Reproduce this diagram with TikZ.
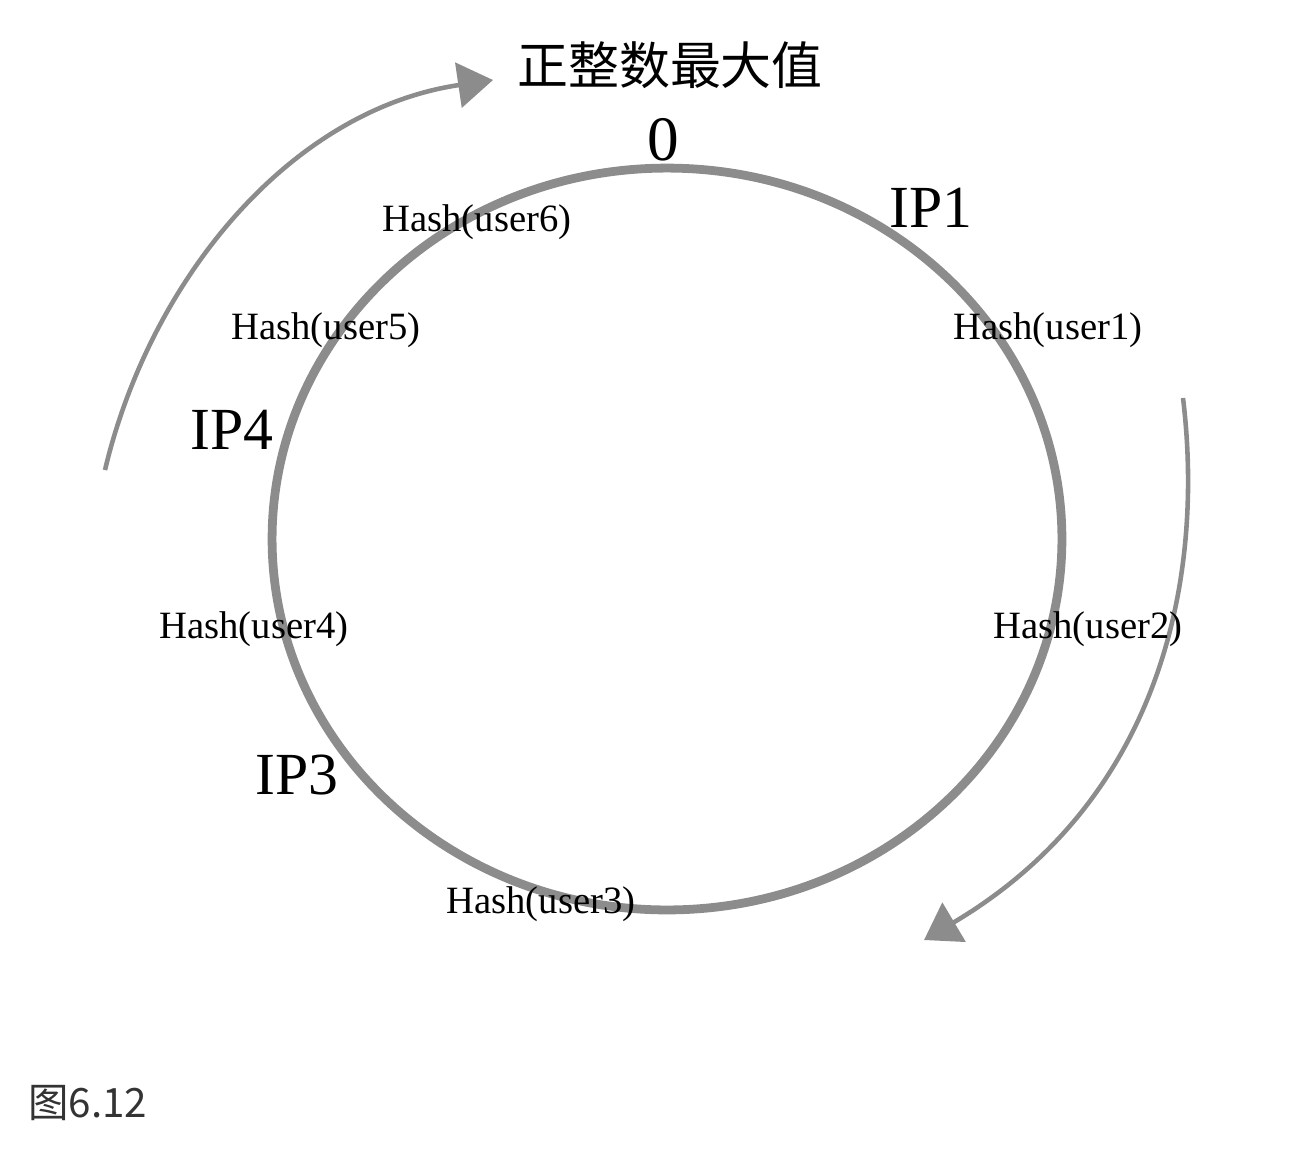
\documentclass[tikz,border=0pt]{standalone}
\usepackage{fontspec}
\setmainfont{Liberation Serif}
\newfontfamily\cjk{Noto Sans CJK SC}
\usetikzlibrary{arrows.meta}
\definecolor{ringgray}{HTML}{8C8C8C}
\definecolor{capgray}{HTML}{333333}

\begin{document}
\begin{tikzpicture}[x=0.02cm,y=-0.02cm,
  ring/.style={draw=ringgray,line width=5pt},
  flow/.style={draw=ringgray,line width=2.6pt,-{Triangle[length=0.7cm,width=0.9cm]}},
  hashlbl/.style={inner sep=0pt,font=\fontsize{22}{22}\selectfont},
  iplbl/.style={inner sep=0pt,font=\fontsize{34}{34}\selectfont}
]
  \useasboundingbox (0,0) rectangle (1310,1154);
  \coordinate (c) at (667,539);
  \draw[ring] (c) ellipse [x radius=7.9cm,y radius=7.42cm];
  % arrows round the ring
  \coordinate (upS) at (105,470);
  \coordinate (upE) at (493,80);
  \draw[flow] (upS) .. controls (150,280) and (290,110) .. (upE);
  \coordinate (dnS) at (1183,398);
  \coordinate (dnE) at (924,940);
  \draw[flow] (dnS) .. controls (1205,580) and (1160,800) .. (dnE);
  % labels
  \node[inner sep=0pt,font=\cjk\fontsize{29}{29}\selectfont] (max) at (670,65) {正整数最大值};
  \node[iplbl,font=\fontsize{36}{36}\selectfont] (zero) at (663,140) {0};
  \node[iplbl] (ip1) at (931,208) {IP1};
  \node[iplbl] (ip4) at (232,430) {IP4};
  \node[iplbl] (ip3) at (297,775) {IP3};
  \node[hashlbl] (h6) at (477,222) {Hash(user6)};
  \node[hashlbl] (h5) at (326,330) {Hash(user5)};
  \node[hashlbl] (h1) at (1048,330) {Hash(user1)};
  \node[hashlbl] (h4) at (254,629) {Hash(user4)};
  \node[hashlbl] (h2) at (1088,629) {Hash(user2)};
  \node[hashlbl] (h3) at (541,904) {Hash(user3)};
  \node[anchor=west,inner sep=0pt,text=capgray,font=\cjk\fontsize{23}{23}\selectfont] (cap) at (28,1103) {图6.12};
\end{tikzpicture}
\end{document}
